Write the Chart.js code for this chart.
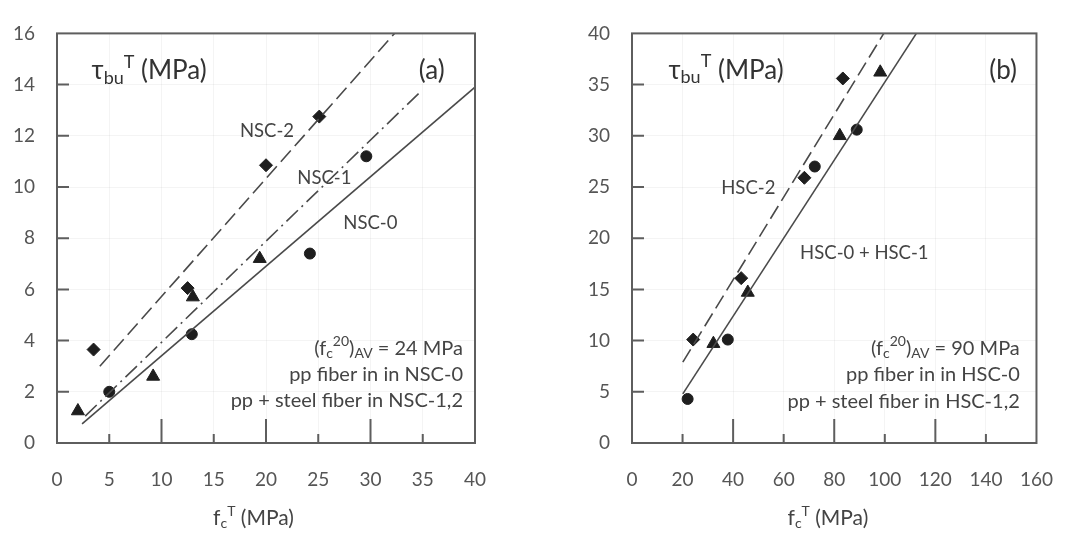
<!DOCTYPE html>
<html>
<head>
<meta charset="utf-8">
<script src="https://cdn.jsdelivr.net/npm/chart.js@4.4.1/dist/chart.umd.min.js"></script>
<style>
  html, body { margin: 0; padding: 0; background: #fff; }
  #wrap { position: relative; width: 1078px; height: 535px; overflow: hidden; }
  .box { position: absolute; top: 0; height: 535px; }
  #boxA { left: 0; width: 540px; }
  #boxB { left: 560px; width: 518px; }
</style>
</head>
<body>
<div id="wrap">
  <div class="box" id="boxA"><canvas id="chartA"></canvas></div>
  <div class="box" id="boxB"><canvas id="chartB"></canvas></div>
</div>
<script>
// ---- (a) normal strength concrete ----
const nsc0X = [5.0, 12.9, 24.2, 29.6];     // circles
const nsc0Y = [2.0, 4.25, 7.4, 11.2];
const nsc1X = [2.0, 9.2, 13.0, 19.4];      // triangles
const nsc1Y = [1.25, 2.6, 5.7, 7.2];
const nsc2X = [3.5, 12.5, 20.0, 25.1];     // diamonds
const nsc2Y = [3.65, 6.05, 10.85, 12.75];
// fitted lines, start / end points
const nscFit0X = [2.4, 40];   const nscFit0Y = [0.75, 13.9];
const nscFit1X = [2.7, 34.6]; const nscFit1Y = [1.05, 13.65];
const nscFit2X = [4.1, 32.3]; const nscFit2Y = [3.0, 16];

// ---- (b) high strength concrete ----
const hsc0X = [22.0, 37.9, 72.3, 88.9];
const hsc0Y = [4.3, 10.1, 27.0, 30.6];
const hsc1X = [32.2, 45.8, 82.2, 98.2];
const hsc1Y = [9.7, 14.7, 30.0, 36.2];
const hsc2X = [24.2, 43.2, 68.2, 83.4];
const hsc2Y = [10.1, 16.1, 25.9, 35.6];
const hscFit01X = [20.1, 112.5]; const hscFit01Y = [4.8, 40];
const hscFit2X = [20.1, 99.6];   const hscFit2Y = [7.9, 40];

// axis ranges / ticks
const xTicksA = [0, 40, 5];  const yTicksA = [0, 16, 2];
const xTicksB = [0, 160, 20]; const yTicksB = [0, 40, 5];

// texts ( _{..} subscript, ^{..} superscript )
const yTitle = 'τ_{bu}^{T} (MPa)';
const xTitle = 'f_{c}^{T} (MPa)';
const notesA = ['(f_{c}^{20})_{AV} = 24 MPa', 'pp fiber in in NSC-0', 'pp + steel fiber in NSC-1,2'];
const notesB = ['(f_{c}^{20})_{AV} = 90 MPa', 'pp fiber in in HSC-0', 'pp + steel fiber in HSC-1,2'];

const FONT = 'Lato, "Open Sans", sans-serif';

function pts(xs, ys) { return xs.map((x, i) => ({ x: x, y: ys[i] })); }

function parseRich(str) {
  const out = [];
  const re = /([_^])\{([^}]*)\}|([^_^]+)/g;
  let m;
  while ((m = re.exec(str)) !== null) {
    if (m[3]) out.push({ t: m[3] });
    else out.push({ t: m[2], sub: m[1] === '_', sup: m[1] === '^' });
  }
  return out;
}

function drawRich(ctx, str, x, y, size, align, color) {
  const segs = parseRich(str);
  const fontOf = s => ((s.sub || s.sup) ? Math.round(size * 0.68) : size) + 'px ' + FONT;
  let w = 0;
  segs.forEach(s => { ctx.font = fontOf(s); w += ctx.measureText(s.t).width; });
  let cx = align === 'right' ? x - w : (align === 'center' ? x - w / 2 : x);
  ctx.fillStyle = color;
  ctx.textAlign = 'left';
  ctx.textBaseline = 'middle';
  segs.forEach(s => {
    ctx.font = fontOf(s);
    const dy = s.sub ? size * 0.28 : (s.sup ? -size * 0.33 : 0);
    ctx.fillText(s.t, cx, y + dy);
    cx += ctx.measureText(s.t).width;
  });
}

// frame, inner tick marks and all annotation text
const decor = {
  id: 'decor',
  afterDraw(chart, args, opts) {
    const ctx = chart.ctx;
    const a = chart.chartArea;
    const xs = chart.scales.x, ys = chart.scales.y;
    ctx.save();
    ctx.strokeStyle = '#5e5e5e';
    ctx.lineWidth = 2;
    ctx.strokeRect(a.left, a.top, a.right - a.left, a.bottom - a.top);
    ctx.beginPath();
    xs.ticks.forEach(t => {
      if (t.value <= xs.min || t.value >= xs.max) return;
      const px = xs.getPixelForValue(t.value);
      const len = (t.value % opts.xMajor === 0) ? 24 : 9;
      ctx.moveTo(px, a.bottom);
      ctx.lineTo(px, a.bottom - len);
    });
    ys.ticks.forEach(t => {
      if (t.value <= ys.min || t.value >= ys.max) return;
      const py = ys.getPixelForValue(t.value);
      ctx.moveTo(a.left, py);
      ctx.lineTo(a.left + 12, py);
    });
    ctx.stroke();

    opts.labels.forEach(l => {
      drawRich(ctx, l.text, xs.getPixelForValue(l.x), ys.getPixelForValue(l.y),
        l.size, l.align || 'left', l.color || '#444');
    });
    drawRich(ctx, xTitle, xs.getPixelForValue(opts.xTitleAt), 518, 21, 'center', '#444');
    ctx.restore();
  }
};

function scatterSet(xs, ys, style, radius) {
  return {
    data: pts(xs, ys), pointStyle: style, pointRadius: radius,
    backgroundColor: '#1e1e1e', borderColor: '#1e1e1e', borderWidth: 1, showLine: false
  };
}
function lineSet(xs, ys, dash) {
  return {
    data: pts(xs, ys), showLine: true, pointRadius: 0, borderColor: '#4a4a4a',
    borderWidth: 1.6, borderDash: dash, fill: false
  };
}

function makeChart(id, datasets, xr, yr, yWidth, padRight, decorOpts) {
  return new Chart(document.getElementById(id), {
    type: 'scatter',
    data: { datasets: datasets },
    options: {
      responsive: true,
      maintainAspectRatio: false,
      animation: false,
      layout: { padding: { left: 0, right: padRight, top: 24, bottom: 0 } },
      plugins: { legend: { display: false }, tooltip: { enabled: false }, decor: decorOpts },
      scales: {
        x: {
          type: 'linear', min: xr[0], max: xr[1],
          ticks: { stepSize: xr[2], color: '#555', font: { family: FONT, size: 19 }, padding: 25, maxRotation: 0 },
          grid: { color: 'rgba(0,0,0,0.045)', drawTicks: false },
          border: { display: false },
          afterFit: s => { s.height = 92; }
        },
        y: {
          type: 'linear', min: yr[0], max: yr[1],
          ticks: { stepSize: yr[2], color: '#555', font: { family: FONT, size: 19 }, padding: 22 },
          grid: { color: 'rgba(0,0,0,0.045)', drawTicks: false },
          border: { display: false },
          afterFit: s => { s.width = yWidth; }
        }
      }
    },
    plugins: [decor]
  });
}

makeChart('chartA', [
  lineSet(nscFit0X, nscFit0Y, []),
  lineSet(nscFit1X, nscFit1Y, [16, 5, 2, 5]),
  lineSet(nscFit2X, nscFit2Y, [15, 6]),
  scatterSet(nsc0X, nsc0Y, 'circle', 5.5),
  scatterSet(nsc1X, nsc1Y, 'triangle', 7.5),
  scatterSet(nsc2X, nsc2Y, 'rectRot', 6.5)
], xTicksA, yTicksA, 57, 65, {
  xMajor: 10,
  xTitleAt: 18.8,
  labels: [
    { text: yTitle, x: 3.3, y: 14.55, size: 26, color: '#333' },
    { text: '(a)', x: 37.1, y: 14.55, size: 26, align: 'right', color: '#333' },
    { text: 'NSC-2', x: 17.5, y: 12.2, size: 18.5 },
    { text: 'NSC-1', x: 23.0, y: 10.35, size: 18.5 },
    { text: 'NSC-0', x: 27.4, y: 8.6, size: 18.5 },
    { text: notesA[0], x: 38.85, y: 3.7, size: 20, align: 'right' },
    { text: notesA[1], x: 38.85, y: 2.67, size: 20, align: 'right' },
    { text: notesA[2], x: 38.85, y: 1.64, size: 20, align: 'right' }
  ]
});

makeChart('chartB', [
  lineSet(hscFit01X, hscFit01Y, []),
  lineSet(hscFit2X, hscFit2Y, [15, 6]),
  scatterSet(hsc0X, hsc0Y, 'circle', 5.5),
  scatterSet(hsc1X, hsc1Y, 'triangle', 7.5),
  scatterSet(hsc2X, hsc2Y, 'rectRot', 6.5)
], xTicksB, yTicksB, 72, 25, {
  xMajor: 40,
  xTitleAt: 77.5,
  labels: [
    { text: yTitle, x: 14.4, y: 36.4, size: 26, color: '#333' },
    { text: '(b)', x: 152.3, y: 36.4, size: 26, align: 'right', color: '#333' },
    { text: 'HSC-2', x: 35.3, y: 24.9, size: 18.5 },
    { text: 'HSC-0 + HSC-1', x: 66.5, y: 18.6, size: 18.5 },
    { text: notesB[0], x: 153.4, y: 9.24, size: 20, align: 'right' },
    { text: notesB[1], x: 153.4, y: 6.66, size: 20, align: 'right' },
    { text: notesB[2], x: 153.4, y: 4.08, size: 20, align: 'right' }
  ]
});
</script>
</body>
</html>
